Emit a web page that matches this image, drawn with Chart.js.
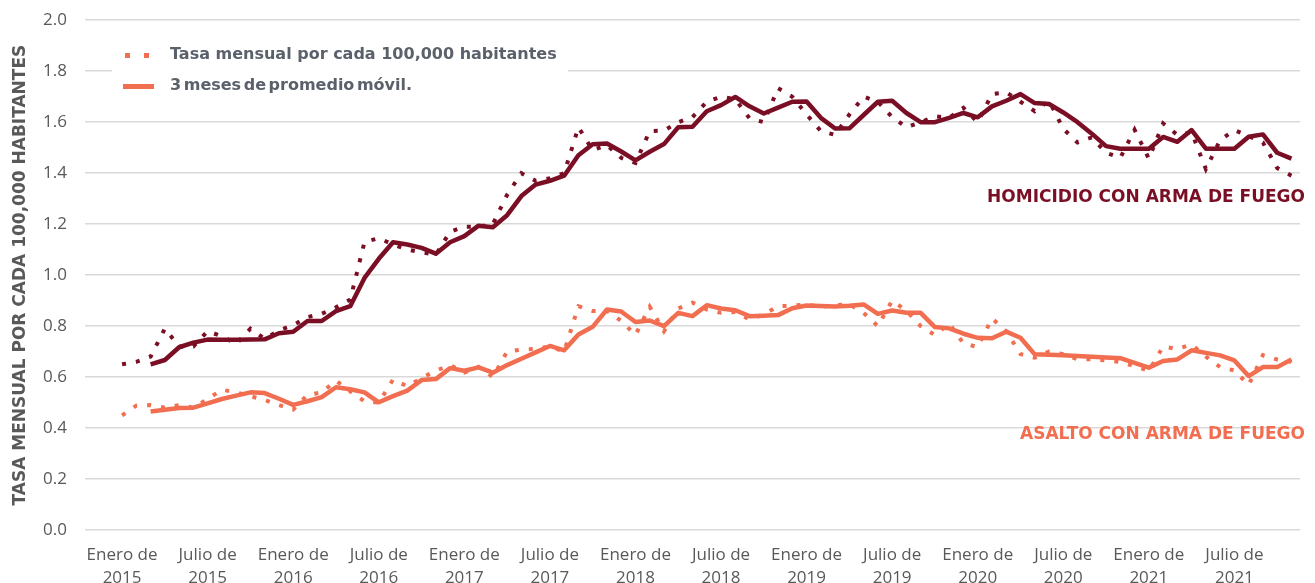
<!DOCTYPE html>
<html><head><meta charset="utf-8">
<script src="https://cdn.jsdelivr.net/npm/chart.js@4"></script>
<style>html,body{margin:0;padding:0;background:#fff;overflow:hidden}#wrap{width:1315px;height:583px;position:relative;overflow:hidden}#c{display:block;position:absolute;left:0;top:-8px}</style>
</head><body><div id="wrap"><canvas id="c" width="1315" height="591"></canvas></div>
<script>
// Month index 0 = Enero 2015 ... 82 = Noviembre 2021
const xTickMonths = [0,6,12,18,24,30,36,42,48,54,60,66,72,78];
const xTickLabels = [
  ["Enero de","2015"],["Julio de","2015"],["Enero de","2016"],["Julio de","2016"],
  ["Enero de","2017"],["Julio de","2017"],["Enero de","2018"],["Julio de","2018"],
  ["Enero de","2019"],["Julio de","2019"],["Enero de","2020"],["Julio de","2020"],
  ["Enero de","2021"],["Julio de","2021"]
];
const yTicks = [0,0.2,0.4,0.6,0.8,1.0,1.2,1.4,1.6,1.8,2.0];

const homicidioMensual = [0.65,0.66,0.68,0.79,0.72,0.72,0.78,0.76,0.73,0.79,
 0.75,0.783,0.804,0.835,0.848,0.874,0.904,1.13,1.145,1.12,
 1.10,1.09,1.08,1.17,1.19,1.19,1.20,1.315,1.40,1.37,
 1.38,1.40,1.58,1.49,1.51,1.46,1.44,1.565,1.567,1.60,
 1.62,1.68,1.70,1.69,1.615,1.60,1.733,1.70,1.63,1.565,
 1.55,1.63,1.70,1.68,1.62,1.58,1.60,1.623,1.617,1.656,
 1.60,1.71,1.717,1.68,1.643,1.684,1.574,1.52,1.54,1.48,
 1.46,1.57,1.457,1.595,1.55,1.56,1.416,1.53,1.569,1.545,
 1.52,1.42,1.39];
const homicidioPromedio = [null,null,0.65,0.667,0.717,0.735,0.747,0.746,0.746,0.747,
 0.748,0.772,0.778,0.82,0.82,0.859,0.878,0.989,1.064,1.129,
 1.12,1.107,1.084,1.129,1.153,1.194,1.188,1.235,1.31,1.355,
 1.37,1.39,1.47,1.513,1.516,1.485,1.45,1.484,1.514,1.58,
 1.582,1.643,1.667,1.699,1.662,1.634,1.657,1.68,1.681,1.617,
 1.575,1.576,1.628,1.68,1.684,1.636,1.6,1.6,1.617,1.636,
 1.619,1.662,1.684,1.71,1.675,1.671,1.638,1.6,1.555,1.506,
 1.496,1.496,1.496,1.542,1.523,1.569,1.496,1.496,1.496,1.543,
 1.552,1.48,1.457];
const asaltoMensual = [0.45,0.488,0.49,0.48,0.49,0.48,0.514,0.55,0.54,0.525,
 0.51,0.49,0.473,0.53,0.54,0.586,0.544,0.505,0.50,0.59,
 0.564,0.596,0.625,0.647,0.618,0.64,0.60,0.70,0.708,0.71,
 0.72,0.70,0.878,0.859,0.86,0.82,0.765,0.876,0.78,0.869,
 0.892,0.865,0.852,0.855,0.826,0.846,0.878,0.88,0.885,0.875,
 0.882,0.885,0.852,0.80,0.90,0.86,0.80,0.765,0.81,0.732,
 0.718,0.83,0.78,0.69,0.676,0.70,0.69,0.67,0.67,0.665,
 0.659,0.643,0.624,0.72,0.71,0.728,0.68,0.639,0.626,0.569,
 0.686,0.669,0.66];
const asaltoPromedio = [null,null,0.465,0.472,0.479,0.48,0.497,0.514,0.527,0.54,
 0.537,0.515,0.491,0.505,0.521,0.56,0.552,0.54,0.501,0.525,
 0.547,0.588,0.592,0.635,0.625,0.638,0.617,0.647,0.672,0.697,
 0.722,0.705,0.767,0.797,0.865,0.857,0.816,0.822,0.80,0.852,
 0.839,0.882,0.869,0.862,0.839,0.841,0.843,0.87,0.881,0.879,
 0.877,0.88,0.885,0.848,0.861,0.852,0.852,0.796,0.791,0.77,
 0.754,0.752,0.778,0.754,0.689,0.688,0.686,0.683,0.68,0.677,
 0.674,0.656,0.637,0.663,0.669,0.705,0.695,0.685,0.665,0.604,
 0.639,0.639,0.669];

const MAROON = '#7A0E24';
const SALMON = '#F26E50';
const GRAY = '#595959';
const LEGEND_GRAY = '#5B616B';
const TICK_FONT = '"Open Sans", "DejaVu Sans", sans-serif';
const BOLD_FONT = '"DejaVu Sans", "Open Sans", sans-serif';
const SHIFT = 8; // canvas is placed 8px above the page top

const toXY = arr => arr.map((v, i) => ({x: i, y: v}));

const overlay = {
  id: 'overlay',
  afterDraw(chart) {
    const c = chart.ctx;
    c.save();
    c.translate(0, SHIFT);
    // legend box
    c.fillStyle = '#fff';
    c.fillRect(112, 38, 456, 62);
    c.fillStyle = SALMON;
    c.fillRect(125, 53, 5, 5);
    c.fillRect(144, 53, 5, 5);
    c.fillRect(123, 84, 31, 5);
    c.fillStyle = LEGEND_GRAY;
    c.font = 'bold 16px ' + BOLD_FONT;
    c.textBaseline = 'middle';
    c.textAlign = 'left';
    c.fillText('Tasa mensual por cada 100,000 habitantes', 170, 55);
    try { c.wordSpacing = '-3px'; } catch (e) {}
    c.fillText('3 meses de promedio móvil.', 170, 86);
    try { c.wordSpacing = '0px'; } catch (e) {}
    // series annotations
    c.textAlign = 'right';
    c.font = 'bold 17px ' + BOLD_FONT;
    c.fillStyle = MAROON;
    c.fillText('HOMICIDIO CON ARMA DE FUEGO', 1305, 198);
    c.fillStyle = SALMON;
    c.fillText('ASALTO CON ARMA DE FUEGO', 1305, 435);
    c.restore();
  }
};

new Chart(document.getElementById('c'), {
  type: 'line',
  data: {
    datasets: [
      {label: 'Homicidio 3 meses', data: toXY(homicidioPromedio), borderColor: MAROON, borderWidth: 4.5, pointRadius: 0, tension: 0, fill: false, borderJoinStyle: 'round'},
      {label: 'Asalto 3 meses', data: toXY(asaltoPromedio), borderColor: SALMON, borderWidth: 4.5, pointRadius: 0, tension: 0, fill: false, borderJoinStyle: 'round'},
      {label: 'Homicidio mensual', data: toXY(homicidioMensual), borderColor: MAROON, borderWidth: 4, borderDash: [4, 10], borderCapStyle: 'butt', pointRadius: 0, tension: 0, fill: false},
      {label: 'Asalto mensual', data: toXY(asaltoMensual), borderColor: SALMON, borderWidth: 4, borderDash: [4, 10], borderCapStyle: 'butt', pointRadius: 0, tension: 0, fill: false}
    ]
  },
  options: {
    responsive: false,
    animation: false,
    devicePixelRatio: 1,
    layout: {autoPadding: false, padding: {left: 0, right: 15, top: 12, bottom: 0}},
    plugins: {legend: {display: false}, tooltip: {enabled: false}},
    scales: {
      x: {
        type: 'linear', min: -2.6, max: 82.6,
        grid: {display: false}, border: {display: false},
        afterBuildTicks: s => { s.ticks = xTickMonths.map(v => ({value: v})); },
        ticks: {
          autoSkip: false, maxRotation: 0, minRotation: 0, padding: 5,
          color: GRAY, font: {family: TICK_FONT, size: 17, lineHeight: 1.38},
          callback: v => { const i = xTickMonths.indexOf(v); return i >= 0 ? xTickLabels[i] : ''; }
        },
        afterFit: s => { s.height = 53; }
      },
      y: {
        min: 0, max: 2,
        afterBuildTicks: s => { s.ticks = yTicks.map(v => ({value: v})); },
        grid: {color: '#D9D9D9', lineWidth: 1.5, drawTicks: false},
        border: {display: false},
        ticks: {color: GRAY, padding: 18, font: {family: TICK_FONT, size: 17}, callback: v => Number(v).toFixed(1)},
        title: {display: true, text: 'TASA MENSUAL POR CADA 100,000 HABITANTES', color: GRAY, font: {family: BOLD_FONT, size: 17, weight: 'bold'}, padding: {top: 10, bottom: 0}},
        afterFit: s => { s.width = 85; }
      }
    }
  },
  plugins: [overlay]
});
</script>
</body></html>
